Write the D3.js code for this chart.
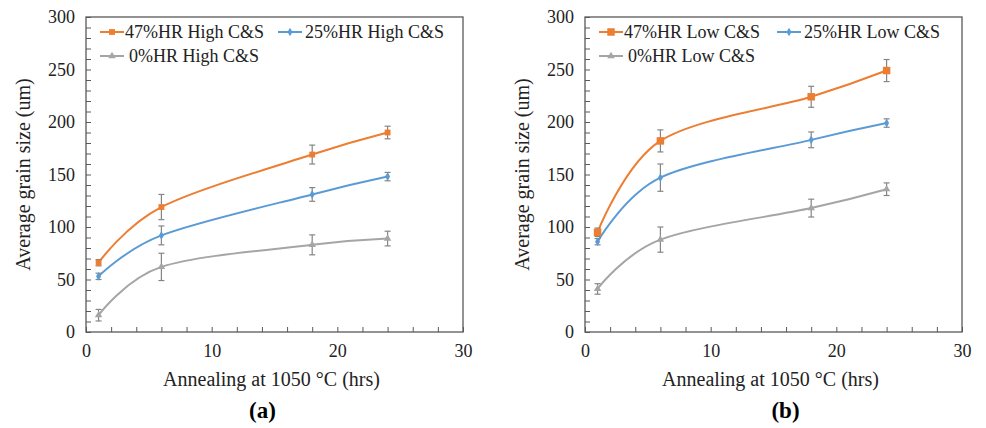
<!DOCTYPE html>
<html>
<head>
<meta charset="utf-8">
<script src="https://cdn.jsdelivr.net/npm/d3@7"></script>
<style>
  body { margin: 0; background: #fff; }
</style>
</head>
<body>
<div id="chart"></div>
<script>
// Grain size vs annealing time, two panels (a) high C&S, (b) low C&S

const hours = [1, 6, 18, 24];
const xTicks = [0, 10, 20, 30];
const yTicks = [0, 50, 100, 150, 200, 250, 300];

const highLabels = ["47%HR High C&S", "25%HR High C&S", "0%HR High C&S"];
const high47 = [66, 119, 169, 190];
const high47Err = [3, 12, 9, 6];
const high25 = [53, 92, 131, 148];
const high25Err = [3, 9, 6.5, 4];
const high0 = [16, 62, 83, 89];
const high0Err = [5.5, 13, 9.5, 7];

const lowLabels = ["47%HR Low C&S", "25%HR Low C&S", "0%HR Low C&S"];
const low47 = [95, 182, 224, 249];
const low47Err = [4, 10.5, 10, 10.5];
const low25 = [86, 147, 183, 199];
const low25Err = [3, 13, 7.5, 4];
const low0 = [41, 88, 118, 136];
const low0Err = [5, 12, 8.5, 6];

const colors = ["#ED7D31", "#5B9BD5", "#A5A5A5"];
const shapes = ["square", "diamond", "triangle"];

const width = 986, height = 428;
const serif = "Liberation Serif";

let svg = d3.select("#chart").append("svg")
    .attr("width", width)
    .attr("height", height);

function drawPanel(left, labels, series, errs, tag, sq) {
    let top = 17, bottom = 332, w = 377;

    let x = d3.scaleLinear().domain([0, 30]).range([left, left + w]);
    let y = d3.scaleLinear().domain([0, 300]).range([bottom, top]);

    let g = svg.append("g");

    // minor ticks pointing in
    g.append("g")
        .attr("transform", `translate(0,${bottom})`)
        .call(d3.axisBottom(x).ticks(15).tickSize(-5).tickFormat(""))
        .call(s => s.select(".domain").remove())
        .selectAll("line").attr("stroke", "#595959");

    g.append("g")
        .attr("transform", `translate(${left},0)`)
        .call(d3.axisLeft(y).ticks(30).tickSize(-5).tickFormat(""))
        .call(s => s.select(".domain").remove())
        .selectAll("line").attr("stroke", "#595959");

    // tick labels
    let xAxis = g.append("g")
        .attr("transform", `translate(0,${bottom})`)
        .call(d3.axisBottom(x).tickValues(xTicks).tickSize(0).tickPadding(12));
    xAxis.select(".domain").remove();
    xAxis.selectAll("text")
        .attr("font-family", serif)
        .attr("font-size", 18)
        .attr("fill", "#222");

    let yAxis = g.append("g")
        .attr("transform", `translate(${left},0)`)
        .call(d3.axisLeft(y).tickValues(yTicks).tickSize(0).tickPadding(11));
    yAxis.select(".domain").remove();
    yAxis.selectAll("text")
        .attr("font-family", serif)
        .attr("font-size", 18)
        .attr("fill", "#222");

    // frame
    g.append("rect")
        .attr("x", left)
        .attr("y", top)
        .attr("width", w)
        .attr("height", bottom - top)
        .attr("fill", "none")
        .attr("stroke", "#595959")
        .attr("stroke-width", 1.3);

    // lines
    let lineGen = d3.line()
        .x((d, i) => x(hours[i]))
        .y(d => y(d))
        .curve(d3.curveCardinal.tension(0));

    series.forEach((vals, k) => {
        g.append("path")
            .datum(vals)
            .attr("d", lineGen)
            .attr("fill", "none")
            .attr("stroke", colors[k])
            .attr("stroke-width", 2);
    });

    // error bars
    series.forEach((vals, k) => {
        let eb = g.append("g").attr("stroke", "#858585").attr("stroke-width", 1.2);
        vals.forEach((v, i) => {
            let cx = x(hours[i]), e = errs[k][i];
            eb.append("line")
                .attr("x1", cx).attr("x2", cx)
                .attr("y1", y(v + e)).attr("y2", y(v - e));
            [v + e, v - e].forEach(c => {
                eb.append("line")
                    .attr("x1", cx - 3).attr("x2", cx + 3)
                    .attr("y1", y(c)).attr("y2", y(c));
            });
        });
    });

    // markers
    series.forEach((vals, k) => {
        g.selectAll(".mk" + k)
            .data(vals)
            .enter()
            .append("path")
            .attr("class", "mk" + k)
            .attr("transform", (d, i) => `translate(${x(hours[i])},${y(d)})`)
            .attr("d", marker(shapes[k], sq))
            .attr("fill", colors[k]);
    });

    // legend
    let leg = g.append("g");
    let entries = [
        {lx: 14, tx: 39, ly: 32},
        {lx: 192, tx: 219, ly: 32},
        {lx: 14, tx: 43, ly: 56}
    ];
    labels.forEach((lab, k) => {
        let e = entries[k];
        leg.append("line")
            .attr("x1", left + e.lx).attr("x2", left + e.lx + 24)
            .attr("y1", e.ly).attr("y2", e.ly)
            .attr("stroke", colors[k])
            .attr("stroke-width", 2);
        leg.append("path")
            .attr("transform", `translate(${left + e.lx + 12},${e.ly})`)
            .attr("d", marker(shapes[k], sq))
            .attr("fill", colors[k]);
        leg.append("text")
            .attr("x", left + e.tx)
            .attr("y", e.ly)
            .attr("dominant-baseline", "central")
            .attr("font-family", serif)
            .attr("font-size", 18)
            .attr("fill", "#222")
            .text(lab);
    });

    // axis titles
    g.append("text")
        .attr("transform", `translate(${left - 56},${(top + bottom) / 2}) rotate(-90)`)
        .attr("text-anchor", "middle")
        .attr("font-family", serif)
        .attr("font-size", 20)
        .attr("fill", "#222")
        .text("Average grain size (um)");

    g.append("text")
        .attr("x", left + w / 2 - 3)
        .attr("y", 386)
        .attr("text-anchor", "middle")
        .attr("font-family", serif)
        .attr("font-size", 20)
        .attr("fill", "#222")
        .text("Annealing at 1050 °C (hrs)");

    g.append("text")
        .attr("x", left + w / 2 + (tag == "(a)" ? -12 : 12))
        .attr("y", 418)
        .attr("text-anchor", "middle")
        .attr("font-family", serif)
        .attr("font-size", 23)
        .attr("font-weight", "bold")
        .attr("fill", "#000")
        .text(tag);
}

function marker(shape, sq) {
    if (shape == "square") return d3.symbol(d3.symbolSquare, sq)();
    if (shape == "diamond") return d3.symbol(d3.symbolDiamond, 22)();
    return d3.symbol(d3.symbolTriangle, 24)();
}

drawPanel(86, highLabels, [high47, high25, high0], [high47Err, high25Err, high0Err], "(a)", 34);
drawPanel(585, lowLabels, [low47, low25, low0], [low47Err, low25Err, low0Err], "(b)", 56);
</script>
</body>
</html>
